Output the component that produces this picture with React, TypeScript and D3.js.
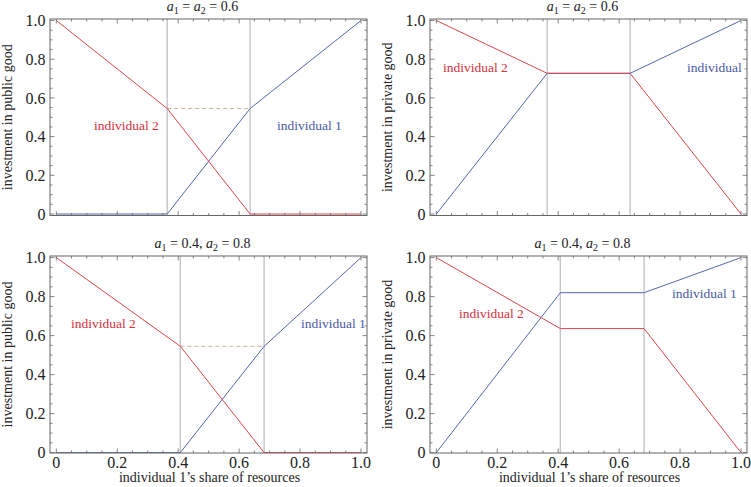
import React from "react";
import * as d3 from "d3";

// ---- data ----
const shareTop = [0, 0.364, 0.636, 1];
const publicTopInd1 = [0, 0, 0.545, 1];
const publicTopInd2 = [1, 0.545, 0, 0];
const privateTopInd1 = [0, 0.727, 0.727, 1];
const privateTopInd2 = [1, 0.727, 0.727, 0];

const shareBottom = [0, 0.407, 0.682, 1];
const publicBottomInd1 = [0, 0, 0.545, 1];
const publicBottomInd2 = [1, 0.545, 0, 0];
const privateBottomInd1 = [0, 0.82, 0.82, 1];
const privateBottomInd2 = [1, 0.636, 0.636, 0];

const tickValues = [0, 0.2, 0.4, 0.6, 0.8, 1.0];
const tickLabels = ["0", "0.2", "0.4", "0.6", "0.8", "1.0"];

const RED = "#dc4450";
const BLUE = "#5566aa";
const RED_T = "#d8303c";
const BLUE_T = "#4a5aa6";
const FONT = "Liberation Serif, Times New Roman, Times, DejaVu Serif, serif";

type Lbl = { text: string; x: number; y: number; color: string };

type PanelProps = {
  id: string;
  left: number;
  right: number;
  top: number;
  bottom: number;
  y0: number;
  y1: number;
  xs: number[];
  ind1: number[];
  ind2: number[];
  dashed: boolean;
  title: React.ReactNode;
  ylabel: string;
  xlabels: boolean;
  labels: Lbl[];
};

function Panel(p: PanelProps) {
  const x = d3.scaleLinear().domain([0, 1]).range([p.left + 6.3, p.right - 6]);
  const y = d3.scaleLinear().domain([0, 1]).range([p.y0, p.y1]);
  const line = d3
    .line<[number, number]>()
    .x((d) => x(d[0]))
    .y((d) => y(d[1]));
  const pts1 = p.xs.map((v, i) => [v, p.ind1[i]] as [number, number]);
  const pts2 = p.xs.map((v, i) => [v, p.ind2[i]] as [number, number]);
  const minor = d3.range(0, 21).map((i) => i * 0.05);
  const isMajor = (v: number) => Math.abs(v * 5 - Math.round(v * 5)) < 1e-6;
  const tickCol = "#666";
  const clipId = "clip-" + p.id;
  const cx = (p.left + p.right) / 2;
  return (
    <g>
      <defs>
        <clipPath id={clipId}>
          <rect x={p.left} y={p.top} width={p.right - p.left} height={p.bottom - p.top} />
        </clipPath>
      </defs>
      <g clipPath={`url(#${clipId})`}>
        {[p.xs[1], p.xs[2]].map((v, i) => (
          <line key={i} x1={x(v)} x2={x(v)} y1={p.top} y2={p.bottom} stroke="#c4c4c8" strokeWidth={1.4} />
        ))}
        {p.dashed && (
          <line
            x1={x(p.xs[1])}
            x2={x(p.xs[2])}
            y1={y(p.ind2[1])}
            y2={y(p.ind2[1])}
            stroke="#c8b49c"
            strokeWidth={1}
            strokeDasharray="4,3"
          />
        )}
        <path d={line(pts1) || ""} fill="none" stroke={BLUE} strokeWidth={1} />
        <path d={line(pts2) || ""} fill="none" stroke={RED} strokeWidth={1} />
        {p.labels.map((l, i) => (
          <text key={i} x={l.x} y={l.y} fill={l.color} style={{ fontFamily: FONT, fontSize: "13.5px" }}>
            {l.text}
          </text>
        ))}
      </g>
      {/* ticks */}
      {minor.map((v, i) => {
        const len = isMajor(v) ? 4.5 : 2.5;
        return (
          <g key={i} stroke={tickCol} strokeWidth={0.8}>
            <line x1={x(v)} x2={x(v)} y1={p.bottom} y2={p.bottom - len} />
            <line x1={x(v)} x2={x(v)} y1={p.top} y2={p.top + len} />
            <line x1={p.left} x2={p.left + len} y1={y(v)} y2={y(v)} />
            <line x1={p.right} x2={p.right - len} y1={y(v)} y2={y(v)} />
          </g>
        );
      })}
      <rect
        x={p.left}
        y={p.top}
        width={p.right - p.left}
        height={p.bottom - p.top}
        fill="none"
        stroke="#666"
        strokeWidth={1}
      />
      {tickValues.map((v, i) => (
        <text
          key={"y" + i}
          x={p.left - 4.5}
          y={y(v)}
          dy="0.35em"
          textAnchor="end"
          fill="#222"
          style={{ fontFamily: FONT, fontSize: "16px" }}
        >
          {tickLabels[i]}
        </text>
      ))}
      {p.xlabels &&
        tickValues.map((v, i) => (
          <text
            key={"x" + i}
            x={x(v)}
            y={p.bottom + 14.5}
            textAnchor="middle"
            fill="#222"
            style={{ fontFamily: FONT, fontSize: "16px" }}
          >
            {tickLabels[i]}
          </text>
        ))}
      {p.xlabels && (
        <text x={cx + 1} y={p.bottom + 29} textAnchor="middle" fill="#222" style={{ fontFamily: FONT, fontSize: "14px" }}>
          individual 1’s share of resources
        </text>
      )}
      <text
        transform={`translate(${p.left - 38},${(p.top + p.bottom) / 2}) rotate(-90)`}
        textAnchor="middle"
        fill="#222"
        style={{ fontFamily: FONT, fontSize: "14px" }}
      >
        {p.ylabel}
      </text>
      <text x={cx - 6} y={p.top - 8} textAnchor="middle" fill="#222" style={{ fontFamily: FONT, fontSize: "14px" }}>
        {p.title}
      </text>
    </g>
  );
}

const sub = (s: string) => (
  <tspan fontSize={10} dy={3}>
    {s}
  </tspan>
);

const TitleEq = (
  <>
    <tspan fontStyle="italic">a</tspan>
    {sub("1")}
    <tspan dy={-3}> = </tspan>
    <tspan fontStyle="italic">a</tspan>
    {sub("2")}
    <tspan dy={-3}> = 0.6</tspan>
  </>
);
const TitleNeq = (
  <>
    <tspan fontStyle="italic">a</tspan>
    {sub("1")}
    <tspan dy={-3}> = 0.4, </tspan>
    <tspan fontStyle="italic">a</tspan>
    {sub("2")}
    <tspan dy={-3}> = 0.8</tspan>
  </>
);

export default function App() {
  const L = { left: 50, right: 367 };
  const R = { left: 430, right: 747 };
  const T = { top: 19, bottom: 215.5, y0: 214, y1: 20.5 };
  const B = { top: 256, bottom: 453, y0: 452.6, y1: 257.6 };
  return (
    <svg width={751} height={487} style={{ position: "absolute", left: 0, top: 0, background: "#fff" }}>
      <Panel
        id="tl"
        {...L}
        {...T}
        xs={shareTop}
        ind1={publicTopInd1}
        ind2={publicTopInd2}
        dashed={true}
        title={TitleEq}
        ylabel="investment in public good"
        xlabels={false}
        labels={[
          { text: "individual 2", x: 94, y: 130, color: RED_T },
          { text: "individual 1", x: 277, y: 130, color: BLUE_T },
        ]}
      />
      <Panel
        id="tr"
        {...R}
        {...T}
        xs={shareTop}
        ind1={privateTopInd1}
        ind2={privateTopInd2}
        dashed={false}
        title={TitleEq}
        ylabel="investment in private good"
        xlabels={false}
        labels={[
          { text: "individual 2", x: 443, y: 72, color: RED_T },
          { text: "individual 1", x: 687, y: 72, color: BLUE_T },
        ]}
      />
      <Panel
        id="bl"
        {...L}
        {...B}
        xs={shareBottom}
        ind1={publicBottomInd1}
        ind2={publicBottomInd2}
        dashed={true}
        title={TitleNeq}
        ylabel="investment in public good"
        xlabels={true}
        labels={[
          { text: "individual 2", x: 71, y: 328, color: RED_T },
          { text: "individual 1", x: 301, y: 328, color: BLUE_T },
        ]}
      />
      <Panel
        id="br"
        {...R}
        {...B}
        xs={shareBottom}
        ind1={privateBottomInd1}
        ind2={privateBottomInd2}
        dashed={false}
        title={TitleNeq}
        ylabel="investment in private good"
        xlabels={true}
        labels={[
          { text: "individual 2", x: 459, y: 318, color: RED_T },
          { text: "individual 1", x: 672, y: 298, color: BLUE_T },
        ]}
      />
    </svg>
  );
}
